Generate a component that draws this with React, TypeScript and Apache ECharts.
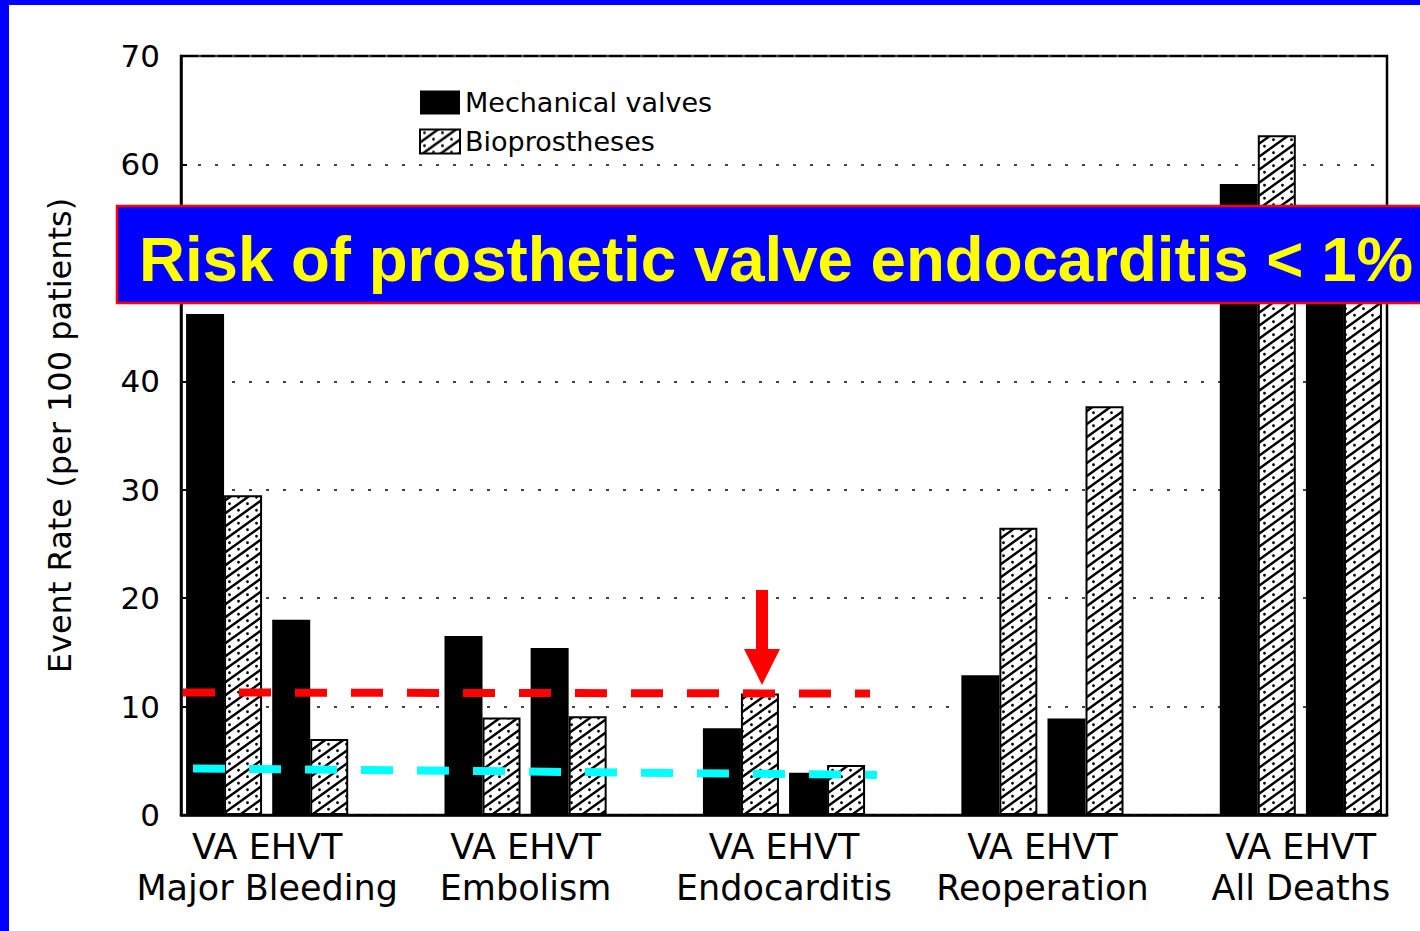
import React, { useEffect, useRef } from "react";
import * as echarts from "echarts";

// ---- data ----
const groups = ["Major Bleeding", "Embolism", "Endocarditis", "Reoperation", "All Deaths"];
const studies = ["VA", "EHVT"];
const seriesNames = ["Mechanical valves", "Bioprostheses"];
// per group: VA, EHVT
const mechanical = [46.2, 18, 16.5, 15.4, 8, 3.9, 12.9, 8.9, 58.2, 52];
const bioprostheses = [29.5, 7, 9, 9.1, 11.2, 4.6, 26.5, 37.7, 62.7, 55];
const yMin = 0;
const yMax = 70;
const yStep = 10;
const yHiddenLabels = [50]; // covered by the banner in the original
const yTitle = "Event Rate (per 100 patients)";
const bannerText = "Risk of prosthetic valve endocarditis < 1%";
const redLineValues = [11.3, 11.2];
const cyanLineValues = [4.3, 3.7];

function makeHatch(): { canvas: HTMLCanvasElement; w: number; h: number } {
  const w = 18;
  const h = 13;
  const c = document.createElement("canvas");
  c.width = w;
  c.height = h;
  const g = c.getContext("2d")!;
  g.fillStyle = "#fff";
  g.fillRect(0, 0, w, h);
  g.strokeStyle = "#000";
  g.lineWidth = 2.5;
  g.beginPath();
  for (let k = 0; k <= 2; k++) {
    g.moveTo(-w, (k + 1) * h);
    g.lineTo(2 * w, (k - 2) * h);
  }
  g.stroke();
  g.fillStyle = "#000";
  g.beginPath();
  g.arc(w * 0.25, h * 0.25, 1.4, 0, Math.PI * 2);
  g.closePath();
  g.moveTo(w * 0.75 + 1.4, h * 0.75);
  g.arc(w * 0.75, h * 0.75, 1.4, 0, Math.PI * 2);
  g.fill();
  return { canvas: c, w, h };
}

export default function App() {
  const ref = useRef<HTMLDivElement>(null);

  useEffect(() => {
    if (!ref.current) return;
    const chart = echarts.init(ref.current, undefined, { renderer: "svg" });

    const cats: string[] = [];
    const mechData: (number | string)[] = [];
    const bioData: (number | string)[] = [];
    groups.forEach((g, gi) => {
      studies.forEach((s, si) => {
        cats.push(`${g} ${s}`);
        mechData.push(mechanical[gi * studies.length + si]);
        bioData.push(bioprostheses[gi * studies.length + si]);
      });
      if (gi < groups.length - 1) {
        cats.push(`gap ${gi}`);
        mechData.push("-");
        bioData.push("-");
      }
    });
    const stride = studies.length + 1;
    const center = studies.length / 2;

    const hatch = makeHatch();
    const pattern: any = {
      image: hatch.canvas,
      repeat: "repeat",
      imageWidth: hatch.w,
      imageHeight: hatch.h,
    };

    const font = "DejaVu Sans";

    chart.setOption({
      animation: false,
      backgroundColor: "#fff",
      textStyle: { fontFamily: font },
      grid: {
        left: 181,
        right: 33,
        top: 56,
        bottom: 116,
        show: true,
        borderColor: "#000",
        borderWidth: 2.5,
        backgroundColor: "transparent",
      },
      legend: {
        orient: "vertical",
        left: 414,
        top: 84,
        itemWidth: 40,
        itemHeight: 24,
        itemGap: 12,
        icon: "rect",
        data: seriesNames,
        textStyle: { fontSize: 27, color: "#000", fontFamily: font },
      },
      xAxis: [
        {
          type: "category",
          position: "bottom",
          data: cats,
          axisLine: { show: true, lineStyle: { color: "#000", width: 2.5 } },
          axisTick: { show: false },
          axisLabel: { show: false },
          splitLine: { show: false },
        },
        {
          type: "value",
          position: "bottom",
          min: 0,
          max: cats.length,
          interval: 1,
          axisLine: { show: false },
          axisTick: { show: false },
          splitLine: { show: false },
          axisLabel: {
            show: true,
            fontSize: 35,
            lineHeight: 41,
            color: "#000",
            fontFamily: font,
            margin: 11,
            formatter: (v: number) => {
              const k = (v - center) / stride;
              if (Number.isInteger(k) && k >= 0 && k < groups.length) {
                return `${studies.join(" ")}\n${groups[k]}`;
              }
              return "";
            },
          },
        },
      ],
      yAxis: {
        type: "value",
        min: yMin,
        max: yMax,
        interval: yStep,
        name: yTitle,
        nameLocation: "middle",
        nameGap: 105,
        nameTextStyle: { fontSize: 32, color: "#000", fontFamily: font },
        axisLine: { show: true, lineStyle: { color: "#000", width: 2.5 } },
        axisTick: { show: true, inside: true, length: 6, lineStyle: { color: "#000", width: 2 } },
        axisLabel: {
          fontSize: 31,
          color: "#000",
          margin: 21,
          fontFamily: font,
          formatter: (v: number) => (yHiddenLabels.includes(v) ? "" : String(v)),
        },
        splitLine: { show: true, lineStyle: { type: [3, 14], color: "#444", width: 2 } },
      },
      series: [
        {
          name: seriesNames[0],
          type: "bar",
          data: mechData,
          barWidth: 38,
          barGap: "0%",
          itemStyle: { color: "#000" },
        },
        {
          name: seriesNames[1],
          type: "bar",
          data: bioData,
          barWidth: 38,
          barGap: "0%",
          itemStyle: { color: pattern, borderColor: "#000", borderWidth: 2 },
        },
      ],
    });

    const py = (v: number) => chart.convertToPixel({ yAxisIndex: 0 }, v) as number;

    chart.setOption({
      graphic: [
        { type: "rect", z: 200, shape: { x: 0, y: 0, width: 9, height: 931 }, style: { fill: "#0000FF" } },
        { type: "rect", z: 200, shape: { x: 0, y: 0, width: 1420, height: 5 }, style: { fill: "#0000FF" } },
        {
          type: "line",
          z: 150,
          shape: { x1: 183, y1: py(redLineValues[0]), x2: 870, y2: py(redLineValues[1]) },
          style: { stroke: "#FF0000", lineWidth: 8, lineDash: [32, 24] },
        },
        {
          type: "line",
          z: 150,
          shape: { x1: 193, y1: py(cyanLineValues[0]), x2: 877, y2: py(cyanLineValues[1]) },
          style: { stroke: "#00FFFF", lineWidth: 8, lineDash: [32, 24] },
        },
        {
          type: "polygon",
          z: 150,
          shape: {
            points: [
              [756, 590],
              [768, 590],
              [768, 649],
              [780, 649],
              [762, 685],
              [744, 649],
              [756, 649],
            ],
          },
          style: { fill: "#FF0000" },
        },
        {
          type: "rect",
          z: 160,
          shape: { x: 117, y: 206, width: 1320, height: 97 },
          style: { fill: "#0000FF", stroke: "#FF0000", lineWidth: 2.5 },
        },
        {
          type: "text",
          z: 170,
          x: 139,
          y: 258,
          style: {
            text: bannerText,
            fill: "#FFFF00",
            font: "bold 63.6px 'Liberation Sans', Arial, sans-serif",
            verticalAlign: "middle",
            align: "left",
          },
        },
      ],
    });

    return () => chart.dispose();
  }, []);

  return (
    <div
      ref={ref}
      style={{ position: "fixed", left: 0, top: 0, width: 1420, height: 931, background: "#fff" }}
    />
  );
}
